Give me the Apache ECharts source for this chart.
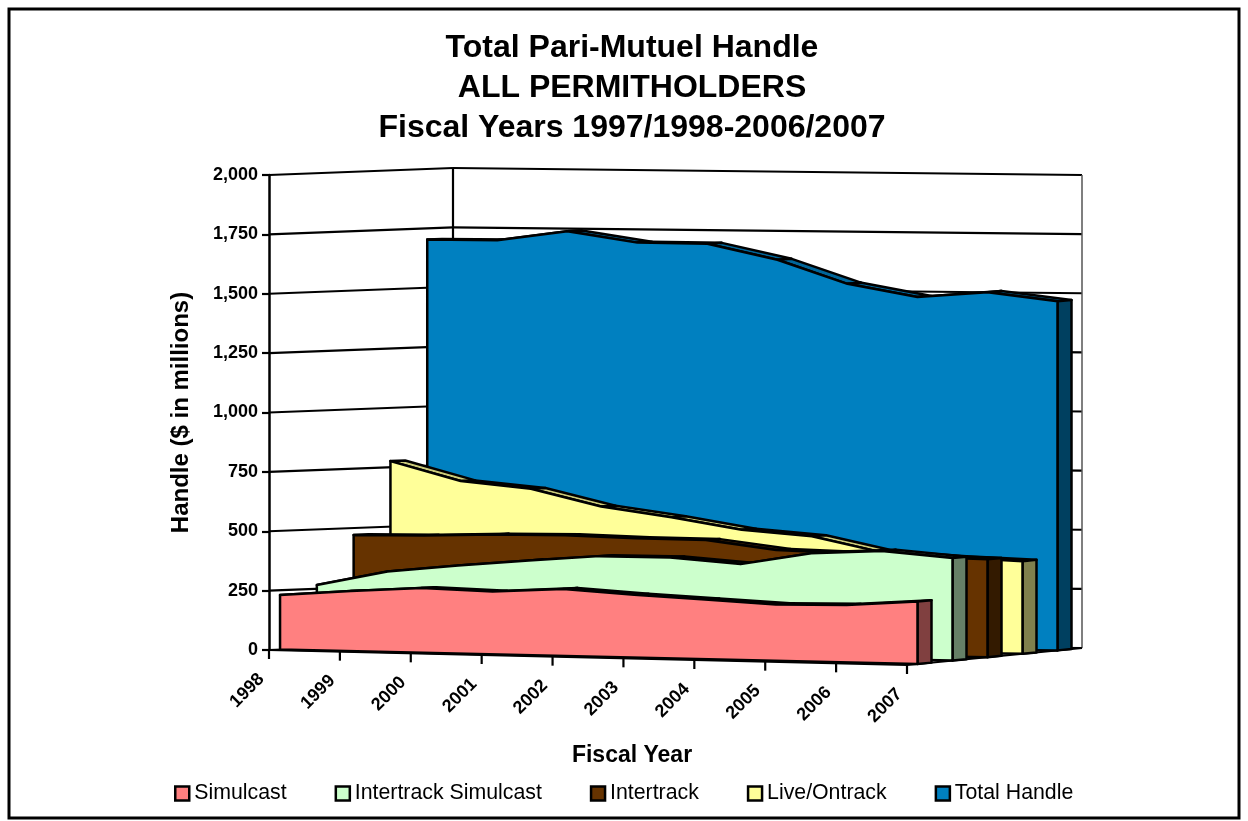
<!DOCTYPE html>
<html>
<head>
<meta charset="utf-8">
<style>html,body{margin:0;padding:0;background:#fff}#c{width:1248px;height:821px}</style>
<script src="https://cdn.jsdelivr.net/npm/echarts@6/dist/echarts.min.js"></script>
</head>
<body>
<div id="c"></div>
<script>
const categories = ['1998','1999','2000','2001','2002','2003','2004','2005','2006','2007'];
const simulcast = [230,253,273,265,282,265,251,237,242,263];
const intertrackSimulcast = [266,329,360,387,411,411,389,441,456,432];
const intertrack = [471,474,483,485,477,474,437,429,419,413];
const liveOntrack = [776,696,668,597,556,507,484,420,403,391];
const totalHandle = [1703,1704,1745,1701,1700,1636,1538,1486,1510,1475];
const yTicks = [0,250,500,750,1000,1250,1500,1750,2000];

const FONT = '"Liberation Sans", Arial, sans-serif';
const LAST = categories.length - 1;
const lerp = (a,b,t) => a + (b-a)*t;

// Oblique 3D view: the grid's own scales give the front plane; depth (0..1) shears it back.
function project(api, i, v, depth) {
  const c = api.coord([i, v]);
  const o = api.coord([0, 0]);
  const e = api.coord([LAST, 0]);
  const u = (c[0]-o[0])/(e[0]-o[0]);
  const h = o[1]-c[1];
  return [
    c[0] + depth*lerp(184,175,u),
    o[1] + 15*u - depth*lerp(7,17,u) - h*(1-0.0042*depth*u)
  ];
}

const black = {stroke:'#000', lineWidth:2.5, lineJoin:'round'};

function areaSeries(name, values, slot, color, topColor, sideColor) {
  const sF = (slot+0.3)/5, sB = (slot+0.7)/5;
  return {
    name, type:'custom', coordinateSystem:'cartesian2d', z:3+(4-slot),
    itemStyle:{color}, silent:true,
    data: values.map((v,i)=>[i,v]),
    encode:{x:0,y:1},
    renderItem(params, api) {
      if (params.dataIndex !== 0) return null;
      const children = [];
      for (let i=0;i<LAST;i++) {
        children.push({type:'polygon', shape:{points:[
          project(api,i,values[i],sF), project(api,i+1,values[i+1],sF),
          project(api,i+1,values[i+1],sB), project(api,i,values[i],sB)
        ]}, style:{fill:topColor, ...black}});
      }
      children.push({type:'polygon', shape:{points:[
        project(api,LAST,0,sF), project(api,LAST,0,sB),
        project(api,LAST,values[LAST],sB), project(api,LAST,values[LAST],sF)
      ]}, style:{fill:sideColor, ...black}});
      const pts = values.map((v,i)=>project(api,i,v,sF));
      pts.push(project(api,LAST,0,sF), project(api,0,0,sF));
      children.push({type:'polygon', shape:{points:pts}, style:{fill:color, ...black}});
      return {type:'group', children};
    }
  };
}

const wallSeries = {
  name:'walls', type:'custom', coordinateSystem:'cartesian2d', z:1, silent:true,
  data: categories.map((c,i)=>[i,0]),
  encode:{x:0,y:1},
  renderItem(params, api) {
    const i = params.dataIndex;
    const children = [];
    const line = (a,b,style) => children.push({type:'line', shape:{x1:a[0],y1:a[1],x2:b[0],y2:b[1]}, style:{stroke:'#000',lineWidth:2.2,...style}});
    // the tick and its label, sloping with the front floor edge
    const f = project(api,i,0,0);
    line(f,[f[0],f[1]+9]);
    children.push({type:'text', x:f[0]-14, y:f[1]+20, rotation:Math.PI/4, style:{
      text:categories[i], fill:'#000', font:'bold 18px '+FONT, align:'right', verticalAlign:'top'
    }});
    if (i===0) {
      yTicks.forEach(v=>{
        const a=project(api,0,v,0), b=project(api,0,v,1), d=project(api,LAST,v,1);
        line(a,b); line(b,d);
      });
      line(project(api,0,0,1),project(api,0,2000,1));
      line(project(api,LAST,0,1),project(api,LAST,2000,1),{stroke:'#555',lineWidth:1.5});
      line(project(api,0,0,0),project(api,LAST,0,0));
      line(project(api,LAST,0,0),project(api,LAST,0,1));
    }
    return {type:'group', children};
  }
};

const chart = echarts.init(document.getElementById('c'), null, {renderer:'canvas'});
chart.setOption({
  animation:false,
  backgroundColor:'#fff',
  textStyle:{fontFamily:FONT},
  title:[
    {text:'Total Pari-Mutuel Handle\nALL PERMITHOLDERS\nFiscal Years 1997/1998-2006/2007',
     left:627, top:23, textAlign:'center',
     textStyle:{fontFamily:FONT,fontWeight:'bold',fontSize:32,lineHeight:40,color:'#000'}},
    {text:'Fiscal Year', left:627, top:739, textAlign:'center',
     textStyle:{fontFamily:FONT,fontWeight:'bold',fontSize:23,color:'#000'}}
  ],
  legend:{
    data:['Simulcast','Intertrack Simulcast','Intertrack','Live/Ontrack','Total Handle'],
    left:169, top:778, itemWidth:14, itemHeight:14, itemGap:48,
    icon:'rect', selectedMode:false,
    itemStyle:{borderColor:'#000',borderWidth:2.5},
    textStyle:{fontFamily:FONT,fontSize:21.3,color:'#000'}
  },
  grid:{left:269, top:175, width:638, height:475, containLabel:false},
  xAxis:{type:'category', data:categories, boundaryGap:false, show:false},
  yAxis:{type:'value', min:0, max:2000, interval:250,
    name:'Handle ($ in millions)', nameLocation:'middle', nameGap:76, nameRotate:90,
    nameTextStyle:{fontFamily:FONT,fontWeight:'bold',fontSize:24,color:'#000'},
    axisLine:{show:true,lineStyle:{color:'#000',width:2.5}},
    axisTick:{show:true,length:7,lineStyle:{color:'#000',width:2.2}},
    axisLabel:{fontFamily:FONT,fontWeight:'bold',fontSize:18,color:'#000',margin:11,
      formatter:v=>v.toLocaleString('en-US')},
    splitLine:{show:false}},
  graphic:[{type:'rect', shape:{x:9,y:9,width:1230,height:809}, silent:true,
    style:{fill:'none',stroke:'#000',lineWidth:3}}],
  series:[
    wallSeries,
    areaSeries('Total Handle', totalHandle, 4, '#0080C0', '#00669A', '#004060'),
    areaSeries('Live/Ontrack', liveOntrack, 3, '#FFFF99', '#CCCC7A', '#80804D'),
    areaSeries('Intertrack', intertrack, 2, '#663300', '#522900', '#331A00'),
    areaSeries('Intertrack Simulcast', intertrackSimulcast, 1, '#CCFFCC', '#A3CCA3', '#668066'),
    areaSeries('Simulcast', simulcast, 0, '#FF8080', '#CC6666', '#804040')
  ]
});
</script>
</body>
</html>
